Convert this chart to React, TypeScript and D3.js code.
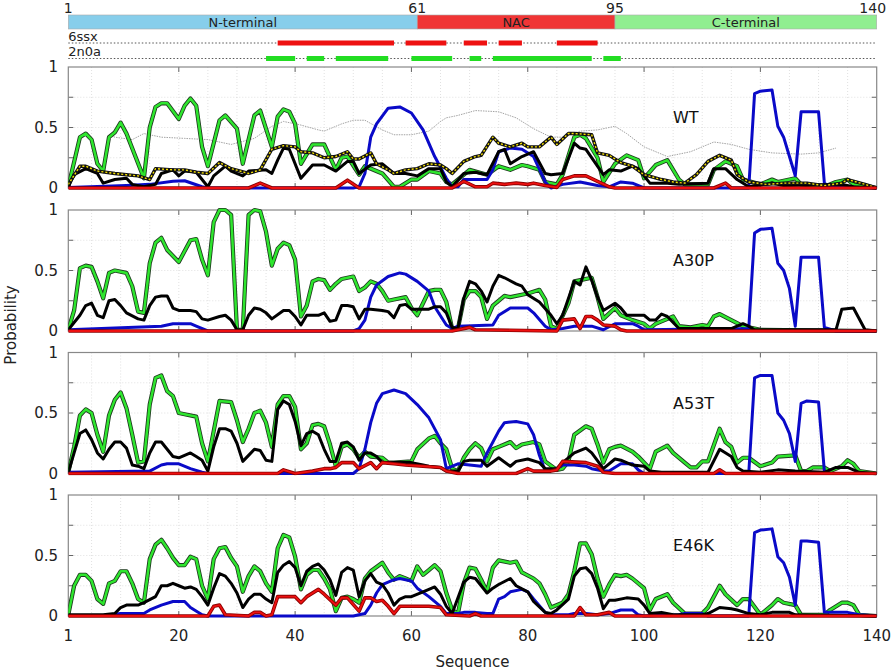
import * as d3 from "d3";

// secondary structure / region annotations (residue ranges)
const regions = [
  { name: "N-terminal", start: 1, end: 61, color: "#87ceeb" },
  { name: "NAC", start: 61, end: 95, color: "#f03535" },
  { name: "C-terminal", start: 95, end: 140, color: "#90ee90" },
];
const regionTicks = [1, 61, 95, 140];
const ssx6Segments = [[37, 57], [59, 66], [69, 73], [75, 79], [85, 92]];
const n0a2Segments = [[35, 40], [42, 45], [47, 56], [60, 67], [70, 72], [74, 91], [93, 96]];

const xTicks = [1, 20, 40, 60, 80, 100, 120, 140];
const yTicks = [0, 0.5, 1];

// series as [residue, probability]
const wtGreen = [[1,0.01],[3,0.42],[4,0.45],[5,0.4],[6,0.2],[7,0.14],[8,0.42],[9,0.46],[10,0.54],[11,0.45],[14,0.08],[15,0.5],[16,0.67],[17,0.7],[18,0.7],[20,0.57],[21,0.68],[22,0.74],[23,0.68],[24,0.34],[25,0.18],[27,0.56],[28,0.6],[30,0.49],[31,0.2],[33,0.6],[34,0.64],[36,0.34],[37,0.59],[38,0.65],[39,0.63],[40,0.53],[41,0.2],[43,0.36],[45,0.36],[47,0.15],[48,0.25],[49,0.26],[51,0.11],[52,0.18],[55,0.12],[57,0.01],[58,0.01],[60,0.07],[61,0.07],[63,0.14],[65,0.12],[66,0.05],[67,0.03],[70,0.15],[73,0.11],[75,0.18],[77,0.15],[79,0.19],[80,0.18],[82,0.15],[83,0.05],[85,0.03],[86,0.11],[88,0.42],[89,0.44],[90,0.41],[92,0.25],[93,0.05],[95,0.2],[97,0.27],[99,0.23],[100,0.08],[102,0.19],[104,0.23],[106,0.07],[107,0.03],[111,0.03],[112,0.15],[114,0.22],[116,0.18],[117,0.07],[120,0.03],[122,0.07],[123,0.05],[126,0.08],[127,0.03],[131,0.01],[133,0.05],[135,0.07],[136,0.03],[139,0.01],[140,0]];
const wtBlue = [[1,0.005],[11,0.02],[15,0.03],[19,0.055],[21,0.06],[24,0.01],[25,0],[50,0],[51,0.01],[52,0.12],[53,0.42],[54,0.53],[56,0.66],[58,0.67],[60,0.62],[62,0.48],[64,0.26],[66,0.08],[67,0.01],[68,0.01],[69,0.07],[73,0.07],[74,0.15],[75,0.3],[77,0.33],[79,0.32],[81,0.26],[83,0.05],[84,0],[86,0.03],[89,0.05],[92,0.02],[94,0.01],[96,0.05],[98,0.04],[100,0],[118,0],[119,0.78],[120,0.8],[122,0.81],[123,0.51],[124,0.42],[125,0.26],[126,0.1],[127,0.63],[130,0.63],[131,0.04],[132,0.01],[140,0]];
const wtBlack = [[1,0.01],[2,0.11],[4,0.16],[6,0.12],[7,0.04],[9,0.07],[11,0.08],[12,0.03],[14,0.01],[16,0.03],[17,0.12],[19,0.15],[20,0.1],[21,0.14],[23,0.13],[25,0.01],[26,0.1],[28,0.18],[29,0.14],[31,0.1],[32,0.14],[35,0.15],[36,0.12],[37,0.23],[38,0.33],[39,0.32],[41,0.08],[43,0.19],[45,0.19],[47,0.14],[49,0.22],[50,0.22],[51,0.12],[53,0.19],[55,0.2],[57,0.12],[59,0.12],[61,0.1],[63,0.16],[65,0.16],[66,0.05],[67,0.01],[69,0.12],[71,0.13],[73,0.11],[75,0.3],[76,0.32],[77,0.2],[79,0.26],[81,0.3],[83,0.12],[84,0.11],[86,0.12],[88,0.37],[89,0.33],[90,0.32],[93,0.11],[94,0.15],[96,0.14],[98,0.18],[99,0.16],[101,0.04],[104,0.04],[106,0.03],[111,0.04],[112,0.16],[114,0.16],[116,0.07],[118,0.01],[122,0.04],[124,0.02],[134,0.03],[136,0.01],[140,0]];
const wtYellow = [[1,0.03],[3,0.18],[4,0.18],[6,0.14],[9,0.12],[11,0.11],[13,0.1],[15,0.07],[16,0.16],[19,0.15],[21,0.15],[23,0.13],[25,0.12],[27,0.21],[29,0.16],[32,0.12],[34,0.15],[36,0.32],[38,0.35],[40,0.34],[41,0.3],[43,0.29],[45,0.25],[47,0.26],[49,0.3],[50,0.24],[51,0.24],[53,0.29],[54,0.2],[56,0.15],[57,0.12],[59,0.15],[61,0.16],[63,0.2],[65,0.19],[66,0.16],[67,0.12],[69,0.22],[71,0.26],[72,0.27],[74,0.42],[75,0.37],[77,0.34],[79,0.37],[80,0.34],[82,0.34],[84,0.42],[85,0.36],[87,0.45],[88,0.45],[91,0.44],[92,0.29],[94,0.27],[96,0.21],[98,0.18],[100,0.11],[103,0.07],[105,0.05],[107,0.04],[109,0.11],[111,0.22],[113,0.27],[115,0.23],[116,0.11],[118,0.05],[121,0.03],[124,0.04],[128,0.04],[131,0.02],[134,0.04],[135,0.07],[138,0.03],[140,0]];
const wtGray = [[8,0.44],[9,0.42],[12,0.4],[14,0.45],[17,0.42],[21,0.41],[25,0.4],[29,0.36],[33,0.41],[36,0.51],[38,0.55],[41,0.52],[44,0.48],[45,0.47],[48,0.53],[50,0.56],[52,0.56],[55,0.48],[57,0.44],[60,0.44],[63,0.47],[65,0.55],[66,0.58],[68,0.6],[71,0.64],[75,0.63],[78,0.58],[81,0.49],[84,0.42],[86,0.42],[89,0.47],[92,0.48],[95,0.51],[97,0.45],[100,0.34],[104,0.26],[108,0.3],[112,0.38],[115,0.36],[118,0.32],[122,0.29],[127,0.28],[130,0.29],[133,0.33]];
const wtRed = [[1,0],[32,0],[34,0.04],[36,0],[47,0],[49,0.065],[51,0],[67,0],[69,0.055],[71,0.01],[73,0.01],[74,0.04],[76,0.03],[78,0.04],[80,0.03],[81,0.04],[83,0.02],[85,0.005],[86,0.07],[88,0.1],[90,0.1],[92,0.055],[94,0.01],[95,0],[112,0],[114,0.04],[115,0],[140,0]];

const a30pGreen = [[1,0.01],[2,0.17],[3,0.52],[4,0.54],[5,0.53],[6,0.41],[7,0.27],[8,0.48],[9,0.5],[11,0.48],[12,0.37],[13,0.16],[14,0.15],[15,0.56],[16,0.73],[17,0.77],[18,0.67],[20,0.57],[22,0.75],[23,0.76],[24,0.59],[25,0.46],[26,0.9],[27,1.0],[28,1.0],[29,0.96],[30,0.01],[31,0.01],[32,0.96],[33,1.0],[34,0.99],[35,0.82],[36,0.54],[37,0.68],[38,0.73],[39,0.71],[40,0.59],[41,0.12],[42,0.21],[43,0.41],[44,0.43],[45,0.42],[46,0.34],[47,0.39],[48,0.43],[50,0.45],[51,0.33],[52,0.36],[53,0.41],[54,0.39],[55,0.33],[56,0.25],[57,0.26],[59,0.28],[60,0.19],[61,0.13],[63,0.33],[64,0.34],[65,0.34],[66,0.24],[67,0.02],[68,0.02],[69,0.26],[70,0.33],[71,0.33],[72,0.28],[73,0.1],[74,0.21],[76,0.29],[77,0.28],[80,0.31],[82,0.34],[83,0.26],[84,0.04],[85,0.02],[87,0.23],[88,0.41],[91,0.44],[92,0.28],[93,0.1],[95,0.19],[96,0.13],[98,0.09],[100,0.06],[101,0.02],[102,0.06],[103,0.08],[105,0.12],[106,0.04],[108,0.03],[110,0.05],[111,0.04],[112,0.12],[113,0.14],[115,0.09],[117,0.04],[119,0.02],[120,0.01],[140,0]];
const a30pBlue = [[1,0.01],[17,0.04],[19,0.06],[22,0.06],[23,0.04],[25,0],[50,0],[51,0.02],[52,0.09],[53,0.28],[54,0.38],[56,0.45],[58,0.48],[59,0.47],[61,0.41],[63,0.33],[64,0.2],[66,0.05],[67,0.02],[68,0.04],[74,0.05],[75,0.13],[77,0.19],[80,0.19],[81,0.15],[83,0.04],[84,0.01],[86,0.02],[88,0.04],[91,0.04],[93,0.01],[95,0.06],[98,0.06],[99,0.04],[100,0.01],[118,0.02],[119,0.81],[120,0.84],[122,0.85],[123,0.56],[124,0.5],[125,0.35],[126,0.04],[127,0.61],[130,0.61],[131,0.03],[133,0],[140,0]];
const a30pBlack = [[1,0.01],[3,0.13],[4,0.21],[5,0.23],[6,0.13],[7,0.11],[8,0.25],[9,0.26],[10,0.21],[11,0.15],[13,0.1],[14,0.09],[15,0.21],[16,0.28],[17,0.29],[18,0.29],[19,0.19],[20,0.17],[22,0.17],[23,0.16],[24,0.1],[25,0.09],[27,0.12],[28,0.13],[29,0.09],[30,0.01],[31,0.01],[32,0.13],[33,0.19],[34,0.18],[35,0.15],[36,0.1],[38,0.17],[39,0.17],[40,0.12],[41,0.05],[42,0.13],[44,0.13],[45,0.15],[46,0.08],[47,0.09],[48,0.21],[49,0.21],[50,0.2],[51,0.1],[52,0.18],[53,0.18],[55,0.17],[56,0.16],[57,0.11],[58,0.21],[59,0.22],[60,0.18],[63,0.18],[64,0.2],[65,0.2],[66,0.15],[67,0.03],[68,0.02],[69,0.27],[70,0.41],[71,0.39],[72,0.33],[73,0.24],[74,0.37],[75,0.46],[76,0.44],[78,0.39],[79,0.37],[80,0.3],[82,0.24],[84,0.13],[85,0.06],[86,0.13],[88,0.41],[89,0.38],[90,0.53],[91,0.42],[92,0.28],[93,0.17],[95,0.23],[96,0.19],[97,0.13],[100,0.13],[101,0.09],[102,0.09],[103,0.14],[104,0.12],[106,0.02],[115,0.02],[117,0.06],[118,0.04],[119,0.01],[133,0.01],[134,0.18],[136,0.19],[138,0.01],[140,0]];
const a30pRed = [[1,0],[67,0],[68,0.01],[70,0.03],[71,0.01],[85,0],[86,0.09],[88,0.1],[89,0.02],[90,0.12],[91,0.12],[92,0.09],[93,0.05],[95,0.04],[96,0.01],[97,0],[140,0]];

const a53tGreen = [[1,0.01],[2,0.22],[3,0.48],[4,0.53],[5,0.5],[6,0.32],[7,0.18],[8,0.48],[9,0.61],[10,0.67],[11,0.54],[12,0.32],[13,0.09],[14,0.1],[15,0.57],[16,0.79],[17,0.81],[18,0.68],[19,0.64],[20,0.5],[21,0.49],[23,0.47],[24,0.25],[25,0.1],[27,0.6],[29,0.59],[30,0.44],[31,0.26],[32,0.37],[33,0.5],[34,0.52],[35,0.42],[36,0.22],[37,0.57],[38,0.64],[39,0.64],[40,0.55],[41,0.2],[42,0.25],[43,0.4],[44,0.41],[45,0.39],[46,0.24],[47,0.06],[48,0.22],[49,0.24],[50,0.2],[51,0.13],[52,0.18],[53,0.14],[55,0.13],[56,0.09],[57,0.09],[60,0.1],[61,0.2],[63,0.29],[64,0.31],[65,0.25],[66,0.2],[67,0.04],[68,0.02],[69,0.13],[70,0.2],[71,0.25],[72,0.21],[73,0.1],[74,0.2],[75,0.22],[77,0.26],[78,0.21],[79,0.24],[81,0.26],[82,0.24],[83,0.1],[85,0.03],[86,0.04],[87,0.1],[88,0.32],[90,0.39],[91,0.37],[92,0.24],[93,0.09],[94,0.2],[95,0.22],[96,0.23],[98,0.18],[99,0.14],[101,0.04],[102,0.18],[104,0.23],[105,0.17],[107,0.09],[108,0.05],[109,0.05],[110,0.1],[111,0.1],[113,0.37],[114,0.26],[115,0.22],[116,0.09],[117,0.13],[118,0.13],[120,0.06],[122,0.09],[123,0.14],[126,0.15],[127,0.02],[128,0.02],[129,0.05],[131,0.05],[132,0.02],[134,0.06],[135,0.11],[136,0.08],[137,0.02],[140,0]];
const a53tBlue = [[1,0.01],[15,0.02],[17,0.07],[18,0.08],[20,0.08],[22,0.04],[24,0.01],[25,0],[50,0],[51,0.04],[52,0.2],[53,0.42],[54,0.58],[55,0.66],[57,0.69],[59,0.66],[61,0.57],[63,0.46],[65,0.28],[66,0.04],[68,0.08],[70,0.07],[72,0.06],[73,0.17],[75,0.35],[76,0.42],[78,0.43],[80,0.41],[81,0.32],[82,0.15],[83,0.02],[85,0.04],[86,0.07],[88,0.07],[90,0.06],[91,0.04],[93,0.02],[94,0.02],[96,0.08],[98,0.08],[99,0.03],[100,0],[118,0],[119,0.79],[120,0.81],[122,0.81],[123,0.5],[124,0.44],[125,0.33],[126,0.1],[127,0.58],[128,0.6],[130,0.59],[131,0.02],[132,0],[140,0]];
const a53tBlack = [[1,0.01],[2,0.17],[3,0.33],[4,0.36],[5,0.28],[6,0.17],[7,0.12],[8,0.2],[9,0.26],[10,0.26],[11,0.21],[12,0.07],[13,0.06],[14,0.04],[15,0.17],[16,0.26],[17,0.26],[18,0.2],[19,0.14],[20,0.13],[22,0.17],[23,0.14],[24,0.11],[25,0.02],[26,0.22],[27,0.37],[28,0.37],[29,0.35],[30,0.25],[31,0.1],[32,0.15],[33,0.2],[34,0.19],[35,0.11],[36,0.1],[37,0.53],[38,0.6],[39,0.57],[40,0.43],[41,0.23],[42,0.33],[43,0.35],[44,0.32],[45,0.2],[46,0.1],[47,0.1],[48,0.25],[49,0.26],[50,0.22],[51,0.11],[52,0.17],[53,0.17],[54,0.14],[55,0.09],[58,0.09],[60,0.09],[62,0.07],[63,0.06],[65,0.05],[66,0.02],[68,0.02],[69,0.1],[70,0.11],[72,0.11],[73,0.06],[75,0.13],[77,0.06],[78,0.1],[80,0.12],[82,0.09],[83,0.04],[85,0.04],[86,0.09],[88,0.17],[90,0.21],[91,0.17],[93,0.04],[95,0.12],[96,0.11],[98,0.07],[100,0.06],[101,0.02],[103,0.01],[111,0.01],[113,0.2],[115,0.14],[116,0.05],[117,0.02],[120,0.01],[123,0.03],[126,0.02],[131,0.01],[133,0.05],[135,0.05],[137,0.01],[140,0]];
const a53tRed = [[1,0],[37,0],[38,0.03],[40,0],[43,0.02],[45,0.04],[46,0.04],[47,0.05],[48,0.09],[50,0.09],[51,0.04],[53,0.09],[54,0.04],[55,0.09],[57,0.08],[59,0.07],[62,0.06],[65,0.05],[66,0.02],[68,0],[78,0],[80,0.04],[81,0.02],[84,0.02],[85,0.03],[86,0.1],[90,0.09],[92,0.06],[93,0.01],[95,0],[112,0],[113,0.03],[114,0],[140,0]];

const e46kGreen = [[1,0.01],[2,0.25],[3,0.34],[4,0.34],[5,0.29],[6,0.14],[7,0.1],[8,0.27],[9,0.29],[10,0.37],[11,0.37],[12,0.27],[13,0.14],[14,0.11],[15,0.47],[16,0.59],[17,0.63],[18,0.56],[19,0.48],[20,0.42],[21,0.42],[22,0.49],[23,0.47],[24,0.25],[25,0.14],[26,0.47],[27,0.56],[28,0.57],[29,0.48],[30,0.41],[31,0.2],[32,0.33],[33,0.41],[34,0.37],[35,0.27],[36,0.2],[37,0.56],[38,0.67],[39,0.65],[40,0.49],[41,0.22],[42,0.34],[43,0.38],[44,0.38],[45,0.31],[46,0.22],[47,0.04],[48,0.15],[49,0.16],[50,0.14],[51,0.11],[52,0.31],[53,0.37],[55,0.44],[56,0.36],[57,0.3],[58,0.33],[59,0.31],[60,0.29],[61,0.41],[62,0.34],[63,0.38],[64,0.42],[65,0.37],[66,0.19],[67,0.05],[68,0.02],[69,0.27],[70,0.4],[71,0.39],[72,0.3],[73,0.2],[74,0.4],[75,0.46],[77,0.44],[78,0.45],[79,0.36],[81,0.31],[82,0.27],[83,0.18],[84,0.07],[86,0.11],[87,0.18],[88,0.37],[89,0.6],[90,0.6],[91,0.51],[92,0.31],[93,0.16],[94,0.26],[95,0.34],[96,0.33],[97,0.34],[98,0.31],[100,0.23],[101,0.05],[102,0.14],[104,0.18],[105,0.11],[107,0.02],[110,0.02],[111,0.07],[113,0.25],[114,0.18],[116,0.09],[117,0.14],[118,0.14],[120,0.01],[122,0.09],[123,0.14],[124,0.11],[126,0.09],[127,0.01],[131,0.01],[132,0.05],[134,0.11],[135,0.11],[136,0.09],[137,0.01],[140,0]];
const e46kBlue = [[1,0.005],[7,0.005],[10,0.02],[14,0.02],[15,0.05],[17,0.09],[19,0.12],[21,0.12],[22,0.07],[24,0.01],[25,0],[50,0],[52,0.02],[53,0.09],[54,0.19],[55,0.26],[57,0.3],[58,0.31],[60,0.29],[61,0.23],[63,0.16],[65,0.08],[66,0.02],[68,0.02],[69,0.03],[71,0.03],[73,0.02],[74,0.02],[75,0.14],[76,0.16],[77,0.2],[79,0.22],[80,0.2],[81,0.14],[83,0.03],[84,0.01],[87,0.01],[88,0.02],[90,0.02],[92,0.01],[94,0.02],[96,0.05],[98,0.05],[99,0.01],[100,0],[106,0.01],[107,0.02],[110,0.02],[111,0],[118,0],[119,0.69],[120,0.71],[122,0.72],[123,0.49],[124,0.44],[125,0.32],[126,0.09],[127,0.62],[128,0.62],[130,0.61],[131,0.03],[135,0.03],[137,0.01],[140,0]];
const e46kBlack = [[1,0.01],[3,0.01],[7,0.01],[9,0.02],[10,0.07],[11,0.09],[13,0.09],[14,0.11],[16,0.16],[17,0.25],[18,0.25],[19,0.27],[20,0.25],[21,0.23],[22,0.24],[23,0.22],[24,0.16],[25,0.09],[26,0.23],[27,0.35],[28,0.33],[29,0.27],[30,0.19],[31,0.07],[32,0.14],[33,0.18],[34,0.18],[35,0.14],[36,0.11],[37,0.36],[38,0.42],[39,0.45],[40,0.4],[41,0.25],[42,0.37],[43,0.41],[44,0.43],[45,0.38],[46,0.3],[47,0.17],[48,0.36],[49,0.4],[50,0.38],[51,0.16],[52,0.29],[53,0.35],[54,0.28],[55,0.26],[56,0.19],[57,0.09],[58,0.14],[59,0.16],[60,0.16],[62,0.2],[63,0.22],[64,0.24],[65,0.18],[66,0.08],[67,0.02],[69,0.28],[70,0.32],[71,0.31],[72,0.25],[73,0.19],[74,0.23],[75,0.26],[77,0.31],[78,0.25],[80,0.2],[81,0.12],[83,0.03],[84,0.02],[85,0.05],[87,0.14],[88,0.33],[89,0.39],[90,0.4],[91,0.35],[92,0.23],[93,0.06],[94,0.13],[95,0.13],[97,0.15],[99,0.14],[100,0.09],[101,0.02],[103,0.03],[105,0.01],[110,0.01],[111,0.02],[113,0.07],[115,0.06],[116,0.05],[118,0.02],[120,0.01],[122,0.03],[125,0.03],[126,0.01],[140,0]];
const e46kRed = [[1,0],[25,0],[26,0.08],[27,0.09],[28,0.01],[32,0],[33,0.03],[34,0.03],[35,0],[36,0.01],[37,0.16],[40,0.16],[41,0.11],[42,0.16],[44,0.22],[45,0.18],[47,0.09],[48,0.15],[49,0.15],[51,0.04],[52,0.15],[53,0.15],[54,0.12],[55,0.13],[56,0.08],[57,0.02],[58,0.08],[59,0.08],[63,0.08],[65,0.07],[66,0.01],[70,0],[71,0.02],[72,0],[88,0],[89,0.07],[90,0.01],[92,0.01],[94,0.03],[95,0],[140,0]];

const panels = [
  { label: "WT", green: wtGreen, blue: wtBlue, black: wtBlack, red: wtRed, yellow: wtYellow, gray: wtGray },
  { label: "A30P", green: a30pGreen, blue: a30pBlue, black: a30pBlack, red: a30pRed },
  { label: "A53T", green: a53tGreen, blue: a53tBlue, black: a53tBlack, red: a53tRed },
  { label: "E46K", green: e46kGreen, blue: e46kBlue, black: e46kBlack, red: e46kRed },
];

const W = 892;
const H = 672;
const FONT = "DejaVu Sans, sans-serif";
const panelTops = [67, 210, 352.5, 495];
const panelH = 121;

export default function App() {
  const x = d3.scaleLinear().domain([1, 140]).range([68.3, 876.7]);
  const gridX = d3.range(5, 140, 5);
  const majorX = [20, 40, 60, 80, 100, 120];

  const segRow = (segs, y, color, label) => (
    <g>
      <line x1={x(1)} x2={x(140)} y1={y} y2={y} stroke="#555" strokeWidth={1} strokeDasharray="1.5,2" />
      {segs.map(([a, b], i) => (
        <rect key={i} x={x(a)} y={y - 2.5} width={x(b) - x(a)} height={5} fill={color} />
      ))}
      <text x={x(1)} y={y - 2.5} fontSize={13} fontFamily={FONT} fill="#222">{label}</text>
    </g>
  );

  return (
    <svg width={W} height={H} style={{ position: "absolute", left: 0, top: 0, background: "#fff" }}>
      {/* region bar */}
      {regions.map((r) => (
        <g key={r.name}>
          <rect x={x(r.start)} y={15} width={x(r.end) - x(r.start)} height={14} fill={r.color} stroke="#aaa" strokeWidth={0.6} />
          <text x={(x(r.start) + x(r.end)) / 2} y={26.5} textAnchor="middle" fontSize={13} fontFamily={FONT} fill="#222">{r.name}</text>
        </g>
      ))}
      {regionTicks.map((t) => (
        <text key={t} x={t === 140 ? x(t) - 4 : x(t)} y={13} textAnchor="middle" fontSize={14} fontFamily={FONT} fill="#222">{t}</text>
      ))}
      {segRow(ssx6Segments, 43, "#ee1111", "6ssx")}
      {segRow(n0a2Segments, 58.5, "#22dd22", "2n0a")}

      {panels.map((p, pi) => {
        const top = panelTops[pi];
        const y = d3.scaleLinear().domain([0, 1]).range([top + panelH, top]);
        const line = d3.line<number[]>().x((d) => x(d[0])).y((d) => y(d[1]));
        const clipId = `clip-${pi}`;
        return (
          <g key={p.label}>
            <defs>
              <clipPath id={clipId}>
                <rect x={x(1)} y={top - 4} width={x(140) - x(1)} height={panelH + 6} />
              </clipPath>
            </defs>
            {/* grid */}
            {gridX.map((g) => (
              <line key={g} x1={x(g)} x2={x(g)} y1={top} y2={top + panelH} stroke="#ccc" strokeWidth={0.6} strokeDasharray="1,2" />
            ))}
            {[0.25, 0.5, 0.75].map((g) => (
              <line key={g} x1={x(1)} x2={x(140)} y1={y(g)} y2={y(g)} stroke="#ccc" strokeWidth={0.6} strokeDasharray="1,2" />
            ))}
            {/* ticks */}
            {majorX.map((t) => (
              <g key={t}>
                <line x1={x(t)} x2={x(t)} y1={top} y2={top + 5} stroke="#666" strokeWidth={1} />
                <line x1={x(t)} x2={x(t)} y1={top + panelH} y2={top + panelH - 5} stroke="#666" strokeWidth={1} />
              </g>
            ))}
            {[0.25, 0.5, 0.75].map((t) => (
              <g key={t}>
                <line x1={x(1)} x2={x(1) + 5} y1={y(t)} y2={y(t)} stroke="#666" strokeWidth={1} />
                <line x1={x(140)} x2={x(140) - 5} y1={y(t)} y2={y(t)} stroke="#666" strokeWidth={1} />
              </g>
            ))}
            <rect x={x(1)} y={top} width={x(140) - x(1)} height={panelH} fill="none" stroke="#888" strokeWidth={1.2} />
            {yTicks.map((t) => (
              <text key={t} x={58} y={y(t) + 5} textAnchor="end" fontSize={15} fontFamily={FONT} fill="#222">{t}</text>
            ))}
            <g clipPath={`url(#${clipId})`} fill="none" strokeLinejoin="round">
              {p.gray && <path d={line(p.gray)} stroke="#999" strokeWidth={0.9} strokeDasharray="1.5,1" />}
              <path d={line(p.green)} stroke="#1f3a1f" strokeWidth={4.2} />
              <path d={line(p.green)} stroke="#2ee62e" strokeWidth={2.5} />
              <path d={line(p.blue)} stroke="#0a0ac8" strokeWidth={3} />
              <path d={line(p.black)} stroke="#000" strokeWidth={3} />
              {p.yellow && (
                <g>
                  <path d={line(p.yellow)} stroke="#111" strokeWidth={3.4} />
                  <path d={line(p.yellow)} stroke="#f5e000" strokeWidth={1.4} strokeDasharray="2,2" />
                </g>
              )}
              <path d={line(p.red)} stroke="#8b0000" strokeWidth={3.6} />
              <path d={line(p.red)} stroke="#ee1010" strokeWidth={1.8} />
            </g>
            <text x={673} y={top + 56} fontSize={16} fontFamily={FONT} fill="#111">{p.label}</text>
          </g>
        );
      })}

      {xTicks.map((t) => (
        <text key={t} x={x(t)} y={641} textAnchor="middle" fontSize={15} fontFamily={FONT} fill="#222">{t}</text>
      ))}
      <text x={(x(1) + x(140)) / 2} y={667} textAnchor="middle" fontSize={15} fontFamily={FONT} fill="#222">Sequence</text>
      <text transform="translate(16,325) rotate(-90)" textAnchor="middle" fontSize={15} fontFamily={FONT} fill="#222">Probability</text>
    </svg>
  );
}
